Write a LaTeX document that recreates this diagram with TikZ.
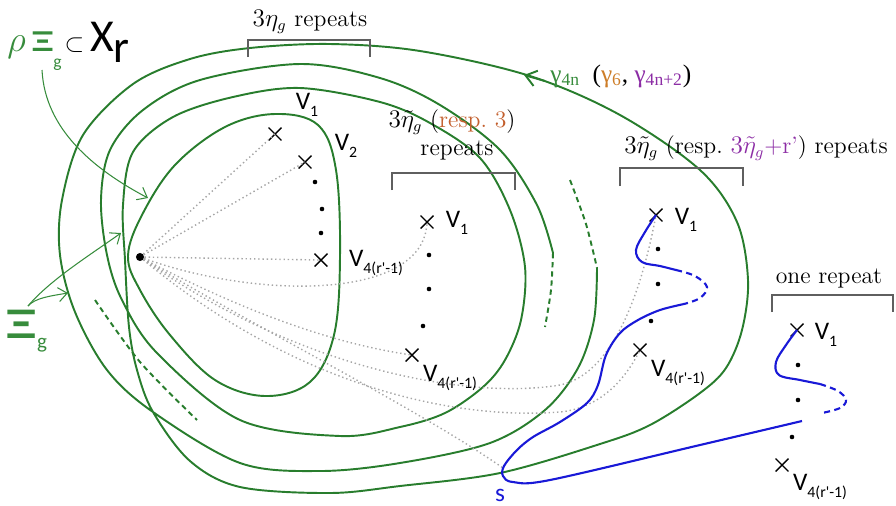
\documentclass[tikz,border=0pt]{standalone}
\usepackage{fontspec}
\usepackage{tikz}
\usetikzlibrary{arrows.meta, shapes.misc}
\newfontfamily\vfont{Carlito}
\newfontfamily\gfont{Liberation Serif}
\definecolor{loopGreen}{RGB}{40,125,45}
\definecolor{labelGreen}{RGB}{55,140,60}
\definecolor{sBlue}{RGB}{25,25,215}
\definecolor{respOrange}{RGB}{195,95,45}
\definecolor{gamOrange}{RGB}{205,125,40}
\definecolor{gamPurple}{RGB}{140,45,165}
\definecolor{braceGray}{RGB}{95,95,95}
\newcommand{\vlab}[1]{{\vfont\Large V\raisebox{-0.55ex}{\small #1}}}

\begin{document}
\begin{tikzpicture}[x=0.02cm, y=-0.02cm,
    gline/.style={draw=loopGreen, line width=1.1pt},
    gdash/.style={draw=loopGreen, line width=1.1pt, dash pattern=on 3pt off 2.2pt},
    sline/.style={draw=sBlue, line width=1.2pt},
    sdash/.style={draw=sBlue, line width=1.2pt, dash pattern=on 3.5pt off 2.5pt},
    gpath/.style={draw=gray!70, line width=0.8pt, dash pattern=on 0.8pt off 1.6pt},
    bracket/.style={draw=braceGray, line width=0.9pt},
    tagarrow/.style={draw=labelGreen, line width=0.6pt, -{Straight Barb[length=5pt, width=8pt]}},
    vx/.style={cross out, draw=black, line width=0.8pt, minimum size=6.5pt, inner sep=0pt},
    vdot/.style={circle, fill=black, inner sep=0pt, minimum size=2.6pt},
    basept/.style={circle, fill=black, inner sep=0pt, minimum size=4.6pt},
    rtext/.style={font=\fontsize{13.5pt}{16pt}\selectfont, inner sep=0pt}
]
\useasboundingbox (0,0) rectangle (896,505);

% Green loops: inner loop and the spiral curve
\draw[gline] plot[smooth cycle, tension=0.6] coordinates {(128,256) (142,215) (175,165) (225,127) (275,114) (318,125) (336,170) (340,257) (334,335) (310,382) (265,396) (215,380) (170,335) (140,290)};
\draw[gline] plot[smooth, tension=0.55] coordinates {(597,268) (594,320) (578,368) (545,410) (490,443) (400,463) (320,471) (240,463) (153,412) (107,370) (75,312) (60,255) (62,200) (83,135) (133,84) (190,59) (250,48) (330,44) (420,51) (530,76) (620,115) (700,170) (737,222) (748,280) (742,330) (726,368) (700,393) (650,425) (600,444) (500,473) (400,486) (330,493) (240,487) (190,461) (153,412) (137,370) (129,327) (125,260) (123,205) (133,152) (173,117) (233,97) (300,88) (380,102) (430,123) (480,158) (510,210) (525,267) (521,320) (505,360) (483,387) (445,413) (400,427) (340,436) (240,420) (157,353) (122,300) (107,255) (101,200) (110,150) (143,110) (200,80) (300,64) (380,78) (440,105) (500,150) (537,205) (553,253)};
\draw[gdash] plot[smooth] coordinates {(570,180) (586,224) (597,268)};
\draw[gdash] plot[smooth] coordinates {(553,253) (551,290) (545,327)};
\draw[gdash] plot[smooth] coordinates {(95,300) (140,362) (197,420)};
\draw[gline, -{Straight Barb[length=6pt, width=9pt]}] (545,81) -- (524,75);

% Points
\node[basept] (base) at (140,257) {};
\node[vx] (v1a) at (275,134) {};
\node[vx] (v2a) at (305,162) {};
\node[vdot] (da1) at (315,182) {};
\node[vdot] (da2) at (322,209) {};
\node[vdot] (da3) at (321,233) {};
\node[vx] (v4a) at (321,260) {};
\node[vx] (v1b) at (427,222) {};
\node[vdot] (db1) at (429,255) {};
\node[vdot] (db2) at (429,289) {};
\node[vdot] (db3) at (423,326) {};
\node[vx] (v4b) at (412,355) {};
\node[vx] (v1c) at (656,215) {};
\node[vdot] (dc1) at (658,249) {};
\node[vdot] (dc2) at (658,284) {};
\node[vdot] (dc3) at (651,321) {};
\node[vx] (v4c) at (640,350) {};
\node[vx] (v1d) at (797,330) {};
\node[vdot] (dd1) at (798,365) {};
\node[vdot] (dd2) at (798,400) {};
\node[vdot] (dd3) at (792,437) {};
\node[vx] (v4d) at (782,465) {};
\coordinate (sPt) at (503,468);

% Dotted paths from the base point
\draw[gpath] (base) -- (v1a.center);
\draw[gpath] (base) -- (v2a.center);
\draw[gpath] (base) -- (v4a.center);
\draw[gpath] (base) .. controls (260,300) and (425,300) .. (v1b.center);
\draw[gpath] (base) .. controls (250,315) and (340,345) .. (v4b.center);
\draw[gpath] (base) .. controls (300,370) and (470,400) .. (560,385) .. controls (610,375) and (640,300) .. (v1c.center);
\draw[gpath] (base) .. controls (300,390) and (460,420) .. (560,412) .. controls (600,408) and (625,380) .. (v4c.center);
\draw[gpath] (base) .. controls (260,330) and (420,410) .. (sPt);

% Blue arc s
\draw[sline] plot[smooth, tension=0.6] coordinates {(v1c.center) (645,232) (636,250) (642,262) (660,266) (676,270)};
\draw[sdash] plot[smooth, tension=0.6] coordinates {(676,270) (695,276) (707,287) (700,298) (684,304)};
\draw[sline] plot[smooth, tension=0.55] coordinates {(684,304) (660,310) (638,320) (620,333) (606,355) (598,385) (587,403) (560,422) (533,437) (517,450) (504,466) (503,476) (513,482) (550,480) (700,445) (802,421)};
\draw[sline] plot[smooth, tension=0.6] coordinates {(v1d.center) (786,345) (776,362) (779,375) (800,380) (820,384)};
\draw[sdash] plot[smooth, tension=0.6] coordinates {(820,384) (838,391) (846,400) (840,408) (822,413)};

% Labels of the points
\node (lv1a) at (307,105) {\vlab{1}};
\node (lv2a) at (346,146) {\vlab{2}};
\node (lv4a) at (376,263) {\vlab{4(r'-1)}};
\node (lv1b) at (457,223) {\vlab{1}};
\node (lv4b) at (450,378) {\vlab{4(r'-1)}};
\node (lv1c) at (686,220) {\vlab{1}};
\node (lv4c) at (678,373) {\vlab{4(r'-1)}};
\node (lv1d) at (826,335) {\vlab{1}};
\node (lv4d) at (820,487) {\vlab{4(r'-1)}};
\node[text=sBlue, inner sep=0pt] (slbl) at (500,495) {\vfont\Large s};

% Repeat brackets
\node[rtext] (rep1) at (310,22) {$3\eta_g$ repeats};
\draw[bracket] (248,57) |- (370,40) -- (370,57);
\node[rtext] (rep2) at (452,122) {$3\tilde{\eta}_g$ (\textcolor{respOrange}{resp.\ 3})};
\node[rtext] (rep2b) at (457,150) {repeats};
\draw[bracket] (392,190) |- (515,173) -- (515,190);
\node[rtext] (rep3) at (756,148) {$3\tilde{\eta}_g$ (resp.\ \textcolor{gamPurple}{$3\tilde{\eta}_g$+r'}) repeats};
\draw[bracket] (620,186) |- (743,168) -- (743,186);
\node[rtext] (rep4) at (829,278) {one repeat};
\draw[bracket] (772,312) |- (893,295) -- (893,312);

% Curve names
\node[anchor=west, inner sep=0pt] (gam) at (550,76) {\gfont\Large\textcolor{labelGreen}{γ\textsubscript{4n}}\enspace(\textcolor{gamOrange}{γ\textsubscript{6}}, \textcolor{gamPurple}{γ\textsubscript{4n+2}})};
\node[anchor=west, inner sep=0pt] (rhoLbl) at (7,46) {\textcolor{labelGreen}{\huge$\rho$\,{\vfont\bfseries\LARGE\scalebox{1.45}[1]{Ξ}}\raisebox{-1ex}{\vfont\normalsize g}}\,{\Large$\subset$}\,\,{\vfont\fontsize{26pt}{30pt}\selectfont X\raisebox{-0.5ex}{r}}};
\node[text=labelGreen, inner sep=0pt] (xiLbl) at (27,331) {{\vfont\bfseries\Huge\scalebox{1.4}[1]{Ξ}}\raisebox{-1.3ex}{\vfont\large g}};

% Arrows from the names
\coordinate (rhoFoot) at (42,70);
\coordinate (xiFoot) at (28,306);
\coordinate (tipIn) at (148,198);
\coordinate (tipMid) at (121,233);
\coordinate (tipOut) at (68,293);
\draw[tagarrow] (rhoFoot) .. controls (45,130) and (95,170) .. (tipIn);
\draw[tagarrow] (xiFoot) .. controls (50,280) and (90,255) .. (tipMid);
\draw[tagarrow] (xiFoot) .. controls (35,298) and (50,296) .. (tipOut);

\end{tikzpicture}
\end{document}
